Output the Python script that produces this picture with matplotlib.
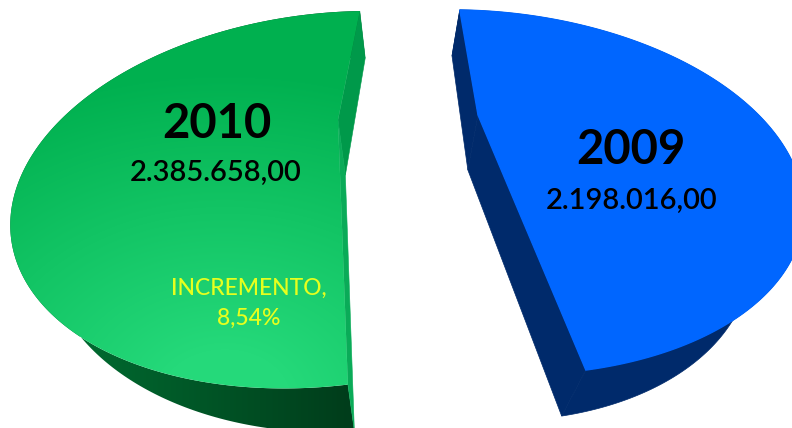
import numpy as np
import matplotlib
matplotlib.use("Agg")
import matplotlib.pyplot as plt
from matplotlib.patches import Polygon
from matplotlib.colors import LinearSegmentedColormap

years = ["2010", "2009"]
totals = [2385658.00, 2198016.00]
total_labels = ["2.385.658,00", "2.198.016,00"]
increment_label = "INCREMENTO,\n8,54%"

# camera for each exploded slice: rim ellipse, where the pie centre lands, roll
GREEN_VIEW = dict(center=(326.4, 199.7), a=317.7, b=186.1, tilt=-7.0, apex=(338, 120), roll=0.0,
                  vanish=420, shear=0.09, depth=47, fade=0.42)
BLUE_VIEW = dict(center=(482.9, 192.3), a=321.6, b=181.1, tilt=4.75, apex=(478, 115), roll=18.8,
                 vanish=400, shear=0.13, depth=46, fade=0.0)
APEX_DROP = 9


def project(x, y, view):
    t = np.radians(view["tilt"])
    e1 = np.array([np.cos(t), np.sin(t)])
    e2 = np.array([-np.sin(t), np.cos(t)])
    d = np.array(view["apex"], float) - view["center"]
    ah = np.array([d @ e1 / view["a"], d @ e2 / view["b"]])
    s = np.hypot(*ah)
    ah = ah / s
    r = np.radians(view["roll"])
    u = x * np.cos(r) - y * np.sin(r)
    v = -(x * np.sin(r) + y * np.cos(r))
    # projective shift of the disc, straight radii stay straight
    par = u * ah[0] + v * ah[1]
    perp = -u * ah[1] + v * ah[0]
    den = 1 + s * par
    par2 = (par + s) / den
    perp2 = perp * np.sqrt(1 - s ** 2) / den
    u2 = par2 * ah[0] - perp2 * ah[1]
    v2 = par2 * ah[1] + perp2 * ah[0]
    px = view["center"][0] + view["a"] * u2 * e1[0] + view["b"] * v2 * e2[0]
    py = view["center"][1] + view["a"] * u2 * e1[1] + view["b"] * v2 * e2[1]
    return np.c_[px, py]


def lower(pts, view):
    # the underside sits lower and a bit narrower, thinner towards the far left
    fade = 1 - view["fade"] * (1 - np.clip((pts[:, 0] - 50) / 300, 0, 1))
    return np.c_[pts[:, 0] + view["shear"] * (view["vanish"] - pts[:, 0]),
                 pts[:, 1] + view["depth"] * fade]


def main():
    fig = plt.figure(figsize=(7.92, 4.28), dpi=100)
    ax = fig.add_axes([0, 0, 1, 1])

    wedges, _ = ax.pie(totals, startangle=79.2)
    for w in wedges:
        w.set_visible(False)
    ax.set_aspect("auto")

    xx, yy = np.meshgrid(np.arange(792) + 0.5, np.arange(428) + 0.5)
    dist = np.sqrt(((xx - 225) / 430) ** 2 + ((yy - 400) / 330) ** 2)
    top_cmap = LinearSegmentedColormap.from_list("g", ["#00b04f", "#25d97a"])
    rim_cmap = LinearSegmentedColormap.from_list("r", ["#003d1b", "#006a30"])

    views = [GREEN_VIEW, BLUE_VIEW]
    for i, (w, view) in enumerate(zip(wedges, views)):
        th = np.radians(np.linspace(w.theta1, w.theta2, 300))
        rim = project(np.cos(th), np.sin(th), view)
        apex = project(np.array([0.0]), np.array([0.0]), view)
        face = np.vstack([apex, rim])
        rim_low = lower(rim, view)
        apex_low = lower(apex, view) + [0, APEX_DROP]

        band = np.vstack([rim, rim_low[::-1]])
        # walls of the cut, one for each radius
        wall_first = np.vstack([apex, rim[:1], rim_low[:1], apex_low])
        wall_last = np.vstack([apex, rim[-1:], rim_low[-1:], apex_low])

        if i == 0:
            im = ax.imshow((350 - xx) / 270, cmap=rim_cmap, vmin=0, vmax=1,
                           extent=(0, 792, 428, 0), aspect="auto", zorder=1)
            im.set_clip_path(Polygon(band, transform=ax.transData))
            ax.add_patch(Polygon(wall_first, fc="#00994a", ec="#00994a", lw=0.4, zorder=2))
            ax.add_patch(Polygon(wall_last, fc="#0aab58", ec="#0aab58", lw=0.4, zorder=2))
            im = ax.imshow(1 - dist, cmap=top_cmap, vmin=0, vmax=0.85,
                           extent=(0, 792, 428, 0), aspect="auto", zorder=3)
            im.set_clip_path(Polygon(face, transform=ax.transData))
        else:
            navy = "#002a6b"
            ax.add_patch(Polygon(band, fc=navy, ec=navy, lw=0.5, zorder=1))
            ax.add_patch(Polygon(wall_first, fc=navy, ec=navy, lw=0.5, zorder=2))
            ax.add_patch(Polygon(wall_last, fc=navy, ec=navy, lw=0.5, zorder=2))
            ax.add_patch(Polygon(face, fc="#0066ff", ec="#0066ff", lw=1.0, zorder=3))

    ax.set_xlim(0, 792)
    ax.set_ylim(428, 0)
    ax.axis("off")

    font = "Lato"
    ax.text(217, 124, years[0], ha="center", va="center", fontsize=34, fontweight="bold",
            family=font, color="black", zorder=5)
    ax.text(216, 173, total_labels[0], ha="center", va="center", fontsize=21, fontweight="semibold",
            family=font, color="black", zorder=5)
    ax.text(631, 150, years[1], ha="center", va="center", fontsize=34, fontweight="bold",
            family=font, color="black", zorder=5)
    ax.text(632, 201, total_labels[1], ha="center", va="center", fontsize=21, fontweight="semibold",
            family=font, color="black", zorder=5)
    ax.text(249, 303, increment_label, ha="center", va="center", fontsize=16.5, fontweight="medium",
            family=font, color="#e6ff1e", linespacing=1.55, zorder=5)

    fig.savefig("out.png", dpi=100)


if __name__ == "__main__":
    main()
